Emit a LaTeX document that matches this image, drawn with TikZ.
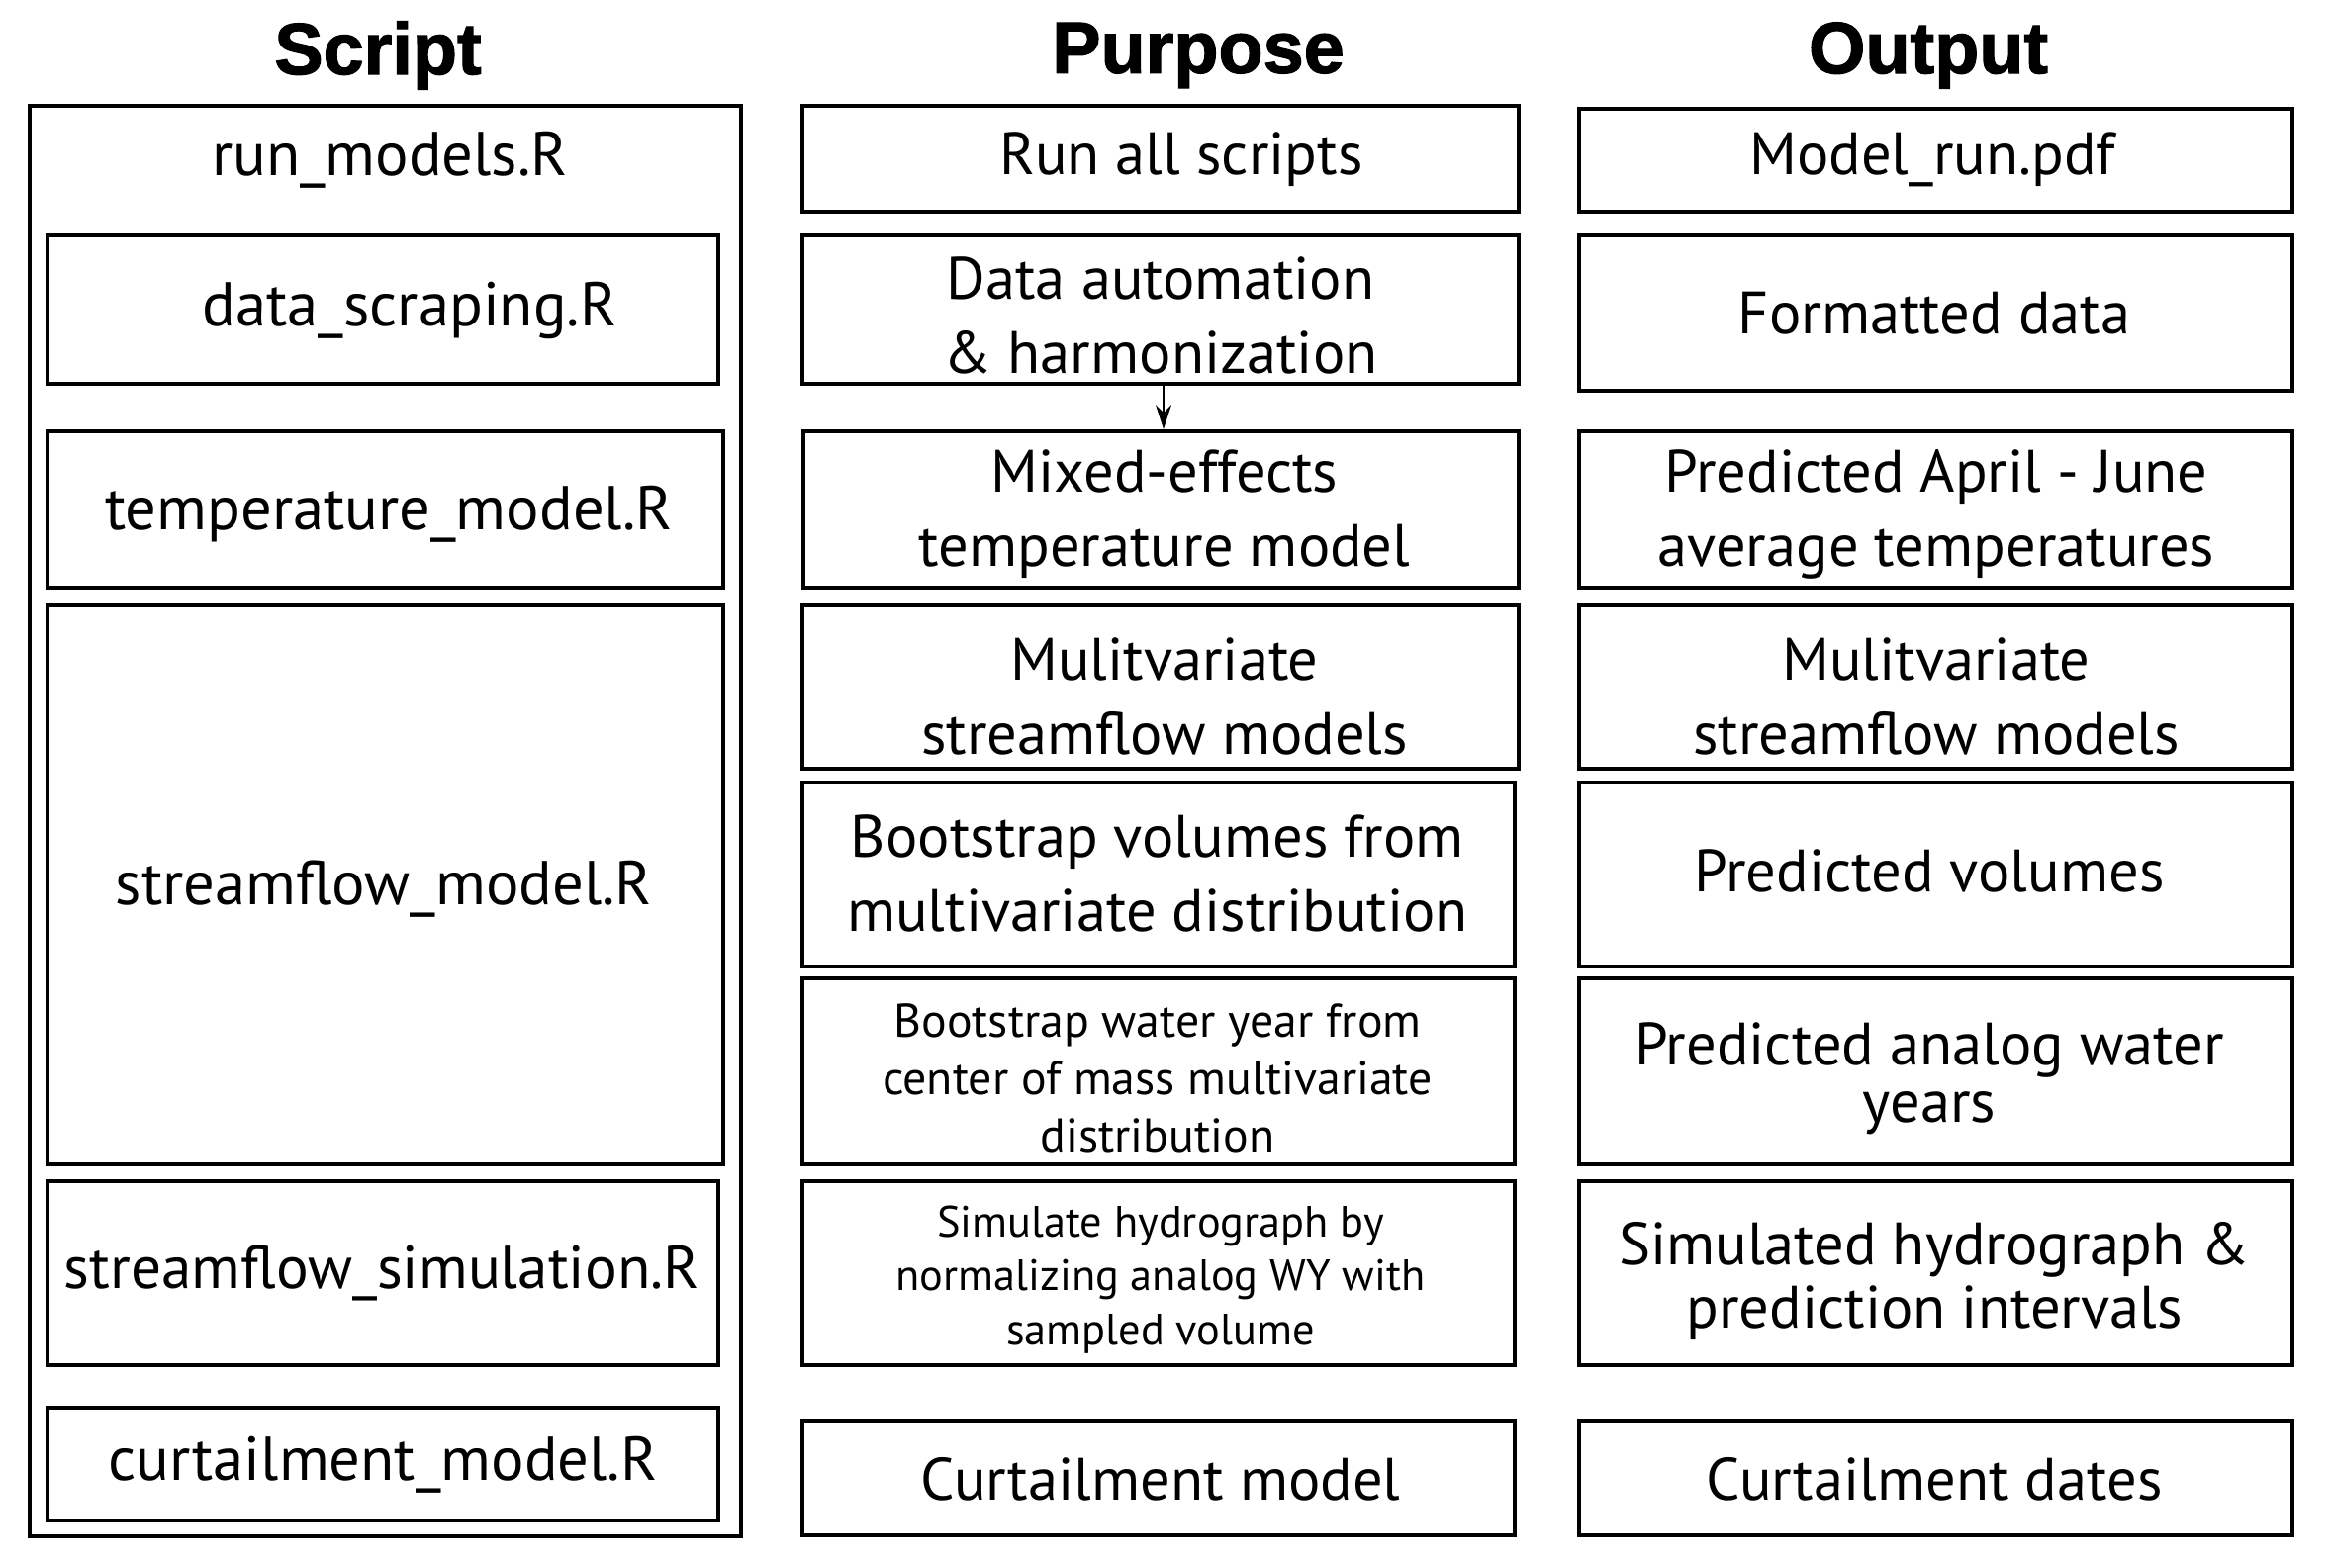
\documentclass[tikz,border=0pt]{standalone}
\usepackage{fontspec}
\setmainfont{PT Sans}
\newfontfamily\hdrfont[BoldFeatures={FakeBold=1.6}]{Liberation Sans}
\usetikzlibrary{fit,arrows.meta}
\begin{document}
\begin{tikzpicture}[x=0.01cm,y=-0.01cm,
  box/.style={draw,line width=1.2pt,inner sep=0pt,rectangle},
  txt/.style={align=center,inner sep=0pt,yshift=-1pt,font=\fontsize{17.2}{21.3}\selectfont},
  stxt/.style={txt,font=\fontsize{17.8}{21.3}\selectfont},
  txtS/.style={align=center,inner sep=0pt,yshift=-1pt,font=\fontsize{13.6}{16.5}\selectfont},
  txtXS/.style={align=center,inner sep=0pt,yshift=-1pt,font=\fontsize{12.6}{15.4}\selectfont},
  hdr/.style={inner sep=0pt,font=\hdrfont\bfseries\fontsize{21}{25}\selectfont},
  link/.style={line width=0.8pt,-{Stealth[length=7pt,width=4.5pt]}}]
\useasboundingbox (0,0) rectangle (2358,1584);

% headers
\node[hdr] (hS) at (382,56) {Script};
\node[hdr] (hP) at (1211,56) {Purpose};
\node[hdr] (hO) at (1949,56) {Output};

% Script column
\node[box,fit={(30,107) (749,1553)}] (sOuter) {};
\node[stxt] (tRun) at (394,158) {run\_models.R};
\node[box,fit={(48,238) (726,388)}] (sData) {};
\node[stxt] (tData) at (414,310) {data\_scraping.R};
\node[box,fit={(48,436) (731,594)}] (sTemp) {};
\node[stxt] (tTemp) at (393,516) {temperature\_model.R};
\node[box,fit={(48,612) (731,1177)}] (sFlow) {};
\node[stxt] (tFlow) at (388,895) {streamflow\_model.R};
\node[box,fit={(48,1194) (726,1380)}] (sSim) {};
\node[stxt,font=\fontsize{17.4}{21.3}\selectfont] (tSim) at (386,1283) {streamflow\_simulation.R};
\node[box,fit={(48,1423) (726,1537)}] (sCurt) {};
\node[stxt] (tCurt) at (387,1477) {curtailment\_model.R};

% Purpose column
\node[box,fit={(811,107) (1535,214)}] (pRun) {};
\node[txt] (tpRun) at (1194,158) {Run all scripts};
\node[box,fit={(811,238) (1535,388)}] (pData) {};
\node[txt] (tpData) at (1173,315) {Data automation\\\& harmonization};
\node[box,fit={(812,436) (1535,594)}] (pMix) {};
\node[txt] (tpMix) at (1177,516) {Mixed-effects\\temperature model};
\node[box,fit={(811,612) (1535,777)}] (pMulti) {};
\node[txt] (tpMulti) at (1177,700) {Mulitvariate\\streamflow models};
\node[box,fit={(811,791) (1531,977)}] (pBoot) {};
\node[txt] (tpBoot) at (1170,879) {Bootstrap volumes from\\multivariate distribution};
\node[box,fit={(811,989) (1531,1177)}] (pBootWY) {};
\node[txtS] (tpBootWY) at (1170,1086) {Bootstrap water year from\\center of mass multivariate\\distribution};
\node[box,fit={(811,1194) (1531,1380)}] (pSim) {};
\node[txtXS] (tpSim) at (1173,1290) {Simulate hydrograph by\\normalizing analog WY with\\sampled volume};
\node[box,fit={(811,1436) (1531,1552)}] (pCurt) {};
\node[txt] (tpCurt) at (1173,1492) {Curtailment model};

% Output column
\node[box,fit={(1596,110) (2317,214)}] (oRun) {};
\node[txt] (toRun) at (1953,158) {Model\_run.pdf};
\node[box,fit={(1596,238) (2317,395)}] (oData) {};
\node[txt] (toData) at (1955,313) {Formatted data};
\node[box,fit={(1596,436) (2317,594)}] (oTemp) {};
\node[txt] (toTemp) at (1957,516) {Predicted April - June\\average temperatures};
\node[box,fit={(1596,612) (2317,777)}] (oMulti) {};
\node[txt] (toMulti) at (1957,700) {Mulitvariate\\streamflow models};
\node[box,fit={(1596,791) (2317,977)}] (oVol) {};
\node[txt] (toVol) at (1950,877) {Predicted volumes};
\node[box,fit={(1596,989) (2317,1177)}] (oWY) {};
\node[txt,font=\fontsize{17.2}{16.5}\selectfont] (toWY) at (1950,1087) {Predicted analog water\\years};
\node[box,fit={(1596,1194) (2317,1380)}] (oSim) {};
\node[txt,font=\fontsize{17.2}{18.2}\selectfont] (toSim) at (1955,1291) {Simulated hydrograph \&\\prediction intervals};
\node[box,fit={(1596,1436) (2317,1552)}] (oCurt) {};
\node[txt] (toCurt) at (1955,1492) {Curtailment dates};

% arrow
\draw[link] (pData.south -| 1176,0) -- (pMix.north -| 1176,0);
\end{tikzpicture}
\end{document}
